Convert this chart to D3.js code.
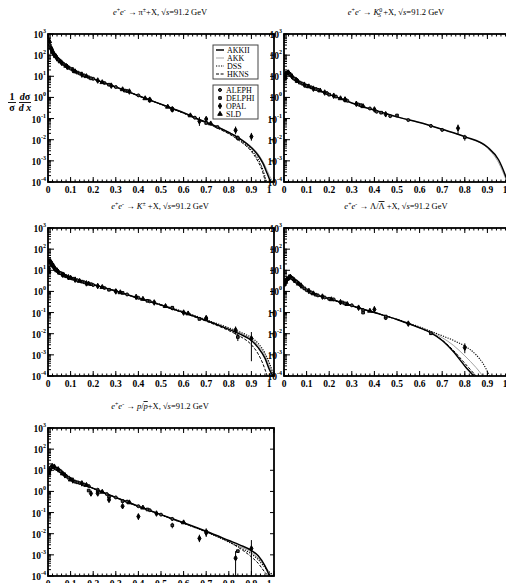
<!DOCTYPE html>
<html>
<head>
<meta charset="utf-8">
<script src="https://cdnjs.cloudflare.com/ajax/libs/d3/7.8.5/d3.min.js"></script>
<style>
  html, body { margin: 0; padding: 0; background: #fff; }
  svg { display: block; font-family: 'Liberation Serif', 'DejaVu Serif', serif; }
</style>
</head>
<body>
<div id="chart"></div>
<script>
'use strict';

// ---- axis ticks ----
const xMajorTicks = [0, 0.1, 0.2, 0.3, 0.4, 0.5, 0.6, 0.7, 0.8, 0.9, 1];
const xTickLabels = ['0', '0.1', '0.2', '0.3', '0.4', '0.5', '0.6', '0.7', '0.8', '0.9', '1'];
const yDecades = [-4, -3, -2, -1, 0, 1, 2, 3];

const models = ['AKKII', 'AKK', 'DSS', 'HKNS'];
const experiments = ['ALEPH', 'DELPHI', 'OPAL', 'SLD'];

// ---- titles: [text, kind] ----
const titlePion = [['e', 'i'], ['+', 'sup'], ['e', 'i'], ['-', 'sup'], [' \u2192 \u03c0', ''], ['\u00b1', 'sup'], ['+X, \u221a', ''], ['s', 'i'], ['=91.2 GeV', '']];
const titleK0S = [['e', 'i'], ['+', 'sup'], ['e', 'i'], ['-', 'sup'], [' \u2192 ', ''], ['K', 'i'], ['0', 'sup'], ['S', 'subback'], [' +X, \u221a', ''], ['s', 'i'], ['=91.2 GeV', '']];
const titleKaon = [['e', 'i'], ['+', 'sup'], ['e', 'i'], ['-', 'sup'], [' \u2192 ', ''], ['K', 'i'], ['\u00b1', 'sup'], [' +X, \u221a', ''], ['s', 'i'], ['=91.2 GeV', '']];
const titleLambda = [['e', 'i'], ['+', 'sup'], ['e', 'i'], ['-', 'sup'], [' \u2192 \u039b/', ''], ['\u039b', 'over'], [' +X, \u221a', ''], ['s', 'i'], ['=91.2 GeV', '']];
const titleProton = [['e', 'i'], ['+', 'sup'], ['e', 'i'], ['-', 'sup'], [' \u2192 ', ''], ['p', 'i'], ['/', ''], ['p', 'iover'], ['+X, \u221a', ''], ['s', 'i'], ['=91.2 GeV', '']];

// ---- theory curves [x, 1/sigma dsigma/dx] ----
const pionAKKII = [[0.003, 650], [0.006, 400], [0.01, 270], [0.02, 150], [0.03, 100], [0.05, 55], [0.07, 36], [0.1, 23], [0.13, 15.5], [0.17, 10], [0.2, 7.6], [0.25, 4.8], [0.3, 3.1], [0.35, 1.95], [0.4, 1.2], [0.45, 0.75], [0.5, 0.48], [0.55, 0.3], [0.6, 0.19], [0.66, 0.1], [0.7, 0.068], [0.75, 0.04], [0.8, 0.022], [0.85, 0.011], [0.9, 0.0042], [0.93, 0.0018], [0.95, 0.0008], [0.97, 0.00025], [0.985, 0.0001]];
const pionAKK = [[0.003, 640], [0.006, 395], [0.01, 268], [0.02, 150], [0.03, 100], [0.05, 55], [0.07, 36], [0.1, 23], [0.13, 15.5], [0.17, 10], [0.2, 7.6], [0.25, 4.8], [0.3, 3.1], [0.35, 1.95], [0.4, 1.2], [0.45, 0.75], [0.5, 0.48], [0.55, 0.3], [0.6, 0.19], [0.66, 0.1], [0.7, 0.069], [0.75, 0.041], [0.8, 0.023], [0.85, 0.0115], [0.9, 0.0046], [0.93, 0.0021], [0.96, 0.0006], [0.98, 0.0002], [0.995, 0.0001]];
const pionDSS = [[0.003, 660], [0.006, 405], [0.01, 272], [0.02, 150], [0.03, 100], [0.05, 55], [0.07, 36], [0.1, 23], [0.13, 15.5], [0.17, 10], [0.2, 7.6], [0.25, 4.8], [0.3, 3.1], [0.35, 1.95], [0.4, 1.2], [0.45, 0.75], [0.5, 0.47], [0.55, 0.29], [0.6, 0.18], [0.66, 0.095], [0.7, 0.064], [0.75, 0.037], [0.8, 0.02], [0.85, 0.0095], [0.9, 0.0032], [0.93, 0.0012], [0.95, 0.0004], [0.967, 0.0001]];
const pionHKNS = [[0.003, 640], [0.006, 400], [0.01, 268], [0.02, 148], [0.03, 99], [0.05, 55], [0.07, 36], [0.1, 23], [0.13, 15.5], [0.17, 10], [0.2, 7.6], [0.25, 4.8], [0.3, 3.1], [0.35, 1.95], [0.4, 1.2], [0.45, 0.75], [0.5, 0.47], [0.55, 0.29], [0.6, 0.18], [0.66, 0.094], [0.7, 0.062], [0.75, 0.035], [0.8, 0.019], [0.85, 0.0085], [0.9, 0.0028], [0.93, 0.0009], [0.95, 0.0003], [0.962, 0.0001]];

const k0sAKKII = [[0.003, 6], [0.008, 12], [0.015, 15], [0.025, 13], [0.05, 7], [0.09, 3.8], [0.13, 2.6], [0.2, 1.4], [0.3, 0.55], [0.4, 0.25], [0.5, 0.12], [0.6, 0.065], [0.7, 0.031], [0.8, 0.014], [0.9, 0.0045], [0.95, 0.0011], [0.98, 0.0002], [1.0, 0.00005]];
const k0sAKK = [[0.003, 6], [0.008, 12], [0.015, 15], [0.025, 13], [0.05, 7], [0.09, 3.8], [0.13, 2.6], [0.2, 1.4], [0.3, 0.55], [0.4, 0.25], [0.5, 0.12], [0.6, 0.065], [0.7, 0.031], [0.8, 0.0135], [0.9, 0.004], [0.95, 0.0008], [0.98, 0.00015], [1.0, 0.00004]];

const kaonAKKII = [[0.003, 12], [0.01, 17], [0.02, 14], [0.05, 7.5], [0.1, 4.3], [0.15, 3], [0.2, 2.1], [0.3, 1.05], [0.4, 0.48], [0.5, 0.23], [0.6, 0.1], [0.7, 0.042], [0.8, 0.016], [0.85, 0.0095], [0.9, 0.0048], [0.93, 0.0022], [0.96, 0.0007], [0.98, 0.0002], [0.995, 0.0001]];
const kaonAKK = [[0.003, 12], [0.01, 17], [0.02, 14], [0.05, 7.5], [0.1, 4.3], [0.15, 3], [0.2, 2.1], [0.3, 1.05], [0.4, 0.48], [0.5, 0.23], [0.6, 0.1], [0.7, 0.043], [0.8, 0.017], [0.85, 0.011], [0.9, 0.0055], [0.93, 0.0028], [0.96, 0.001], [0.98, 0.0003], [1.0, 0.0001]];
const kaonDSS = [[0.003, 13], [0.01, 18], [0.02, 14], [0.05, 7.5], [0.1, 4.3], [0.15, 3], [0.2, 2.1], [0.3, 1.05], [0.4, 0.49], [0.5, 0.24], [0.6, 0.11], [0.7, 0.046], [0.8, 0.019], [0.85, 0.012], [0.9, 0.0065], [0.93, 0.0035], [0.96, 0.0012], [0.98, 0.0004], [1.0, 0.0001]];
const kaonHKNS = [[0.003, 12], [0.01, 16], [0.02, 13.5], [0.05, 7.4], [0.1, 4.3], [0.15, 3], [0.2, 2.1], [0.3, 1.04], [0.4, 0.47], [0.5, 0.22], [0.6, 0.095], [0.7, 0.039], [0.8, 0.014], [0.85, 0.0075], [0.9, 0.003], [0.93, 0.0011], [0.95, 0.0004], [0.97, 0.0001]];

const lambdaAKKII = [[0.003, 2.6], [0.01, 3.5], [0.02, 4.3], [0.03, 4.5], [0.05, 3.1], [0.1, 1.1], [0.15, 0.65], [0.2, 0.45], [0.3, 0.21], [0.4, 0.1], [0.5, 0.047], [0.55, 0.03], [0.6, 0.019], [0.65, 0.011], [0.7, 0.0048], [0.75, 0.0014], [0.8, 0.0003], [0.84, 0.0001]];
const lambdaAKK = [[0.003, 2.6], [0.01, 3.5], [0.02, 4.3], [0.03, 4.5], [0.05, 3.1], [0.1, 1.1], [0.15, 0.65], [0.2, 0.45], [0.3, 0.21], [0.4, 0.1], [0.5, 0.047], [0.55, 0.031], [0.6, 0.02], [0.65, 0.012], [0.7, 0.0065], [0.75, 0.0028], [0.8, 0.0009], [0.85, 0.00025], [0.88, 0.0001]];
const lambdaDSS = [[0.003, 2.7], [0.01, 3.6], [0.02, 4.3], [0.03, 4.5], [0.05, 3.1], [0.1, 1.1], [0.15, 0.65], [0.2, 0.45], [0.3, 0.21], [0.4, 0.1], [0.5, 0.048], [0.55, 0.032], [0.6, 0.021], [0.65, 0.013], [0.7, 0.008], [0.75, 0.0048], [0.8, 0.0026], [0.85, 0.001], [0.88, 0.0004], [0.91, 0.0001]];
const lambdaHKNS = [[0.003, 2.5], [0.01, 3.4], [0.02, 4.2], [0.03, 4.4], [0.05, 3.1], [0.1, 1.1], [0.15, 0.65], [0.2, 0.45], [0.3, 0.21], [0.4, 0.1], [0.5, 0.047], [0.55, 0.03], [0.6, 0.019], [0.65, 0.011], [0.7, 0.005], [0.75, 0.0016], [0.8, 0.0004], [0.85, 0.0001]];

const protonAKKII = [[0.003, 7], [0.01, 11], [0.02, 14], [0.03, 14], [0.05, 10], [0.1, 3.8], [0.15, 2.3], [0.2, 1.4], [0.3, 0.52], [0.4, 0.2], [0.5, 0.08], [0.6, 0.033], [0.7, 0.013], [0.8, 0.0048], [0.85, 0.0029], [0.9, 0.0016], [0.93, 0.0009], [0.96, 0.0003], [0.98, 0.0001]];
const protonAKK = [[0.003, 7], [0.01, 11], [0.02, 14], [0.03, 14], [0.05, 10], [0.1, 3.8], [0.15, 2.3], [0.2, 1.4], [0.3, 0.52], [0.4, 0.2], [0.5, 0.08], [0.6, 0.032], [0.7, 0.0125], [0.8, 0.0045], [0.85, 0.0025], [0.9, 0.0013], [0.93, 0.0007], [0.96, 0.0003], [0.99, 0.0001]];
const protonDSS = [[0.003, 7.5], [0.01, 11.5], [0.02, 14], [0.03, 14], [0.05, 10], [0.1, 3.8], [0.15, 2.3], [0.2, 1.4], [0.3, 0.51], [0.4, 0.19], [0.5, 0.077], [0.6, 0.031], [0.7, 0.012], [0.8, 0.004], [0.85, 0.0022], [0.9, 0.0011], [0.93, 0.0006], [0.96, 0.00025], [1.0, 0.0001]];
const protonHKNS = [[0.003, 6.5], [0.01, 10.5], [0.02, 13.5], [0.03, 14], [0.05, 10], [0.1, 3.8], [0.15, 2.3], [0.2, 1.4], [0.3, 0.52], [0.4, 0.2], [0.5, 0.079], [0.6, 0.032], [0.7, 0.0125], [0.8, 0.0042], [0.85, 0.002], [0.9, 0.0008], [0.93, 0.0004], [0.96, 0.00015], [0.975, 0.0001]];

// ---- measurements [x, value, (low, high)] ----
const pionALEPH = [[0.008, 300], [0.012, 220], [0.016, 180], [0.02, 150], [0.025, 120], [0.03, 100], [0.035, 85], [0.04, 72], [0.05, 56], [0.06, 45], [0.07, 37], [0.08, 31], [0.09, 26], [0.1, 23], [0.12, 17], [0.14, 13.5], [0.16, 11], [0.18, 9], [0.2, 7.6], [0.25, 4.8], [0.3, 3.1], [0.35, 2.0], [0.4, 1.25], [0.45, 0.8], [0.55, 0.3, 0.24, 0.36], [0.65, 0.11], [0.75, 0.04]];
const pionDELPHI = [[0.011, 230], [0.018, 160], [0.03, 95], [0.045, 62], [0.065, 40], [0.09, 26], [0.13, 15], [0.19, 8], [0.27, 4], [0.34, 2.1], [0.45, 0.72], [0.55, 0.26, 0.21, 0.32], [0.7, 0.062], [0.84, 0.012, 0.009, 0.016]];
const pionOPAL = [[0.015, 200], [0.025, 115], [0.04, 70], [0.06, 44], [0.085, 28], [0.11, 20], [0.15, 12], [0.22, 6.3], [0.28, 3.6], [0.36, 1.9], [0.45, 0.78], [0.55, 0.27], [0.67, 0.075, 0.045, 0.12], [0.7, 0.095], [0.83, 0.028, 0.018, 0.042], [0.9, 0.014, 0.009, 0.021]];
const pionSLD = [[0.006, 450], [0.02, 140], [0.035, 88], [0.055, 50], [0.08, 31], [0.12, 17], [0.17, 10], [0.24, 5.2], [0.33, 2.4], [0.43, 0.9], [0.53, 0.36], [0.63, 0.14], [0.72, 0.058]];

const k0sALEPH = [[0.01, 14], [0.015, 15], [0.02, 14.5], [0.03, 11], [0.04, 8.5], [0.05, 7], [0.06, 6], [0.08, 4.5], [0.1, 3.6], [0.12, 3], [0.15, 2.3], [0.19, 1.6], [0.23, 1.1], [0.28, 0.7], [0.33, 0.46], [0.38, 0.3], [0.41, 0.21], [0.47, 0.13], [0.55, 0.085], [0.65, 0.045], [0.7, 0.029]];
const k0sDELPHI = [[0.012, 15], [0.025, 13], [0.045, 7.8], [0.07, 5], [0.1, 3.5], [0.14, 2.5], [0.2, 1.35], [0.27, 0.75], [0.34, 0.43], [0.43, 0.19], [0.5, 0.14], [0.8, 0.013, 0.009, 0.017]];
const k0sOPAL = [[0.008, 12], [0.018, 15], [0.035, 10], [0.055, 6.5], [0.09, 4], [0.13, 2.6], [0.18, 1.7], [0.22, 1.2], [0.27, 0.8], [0.32, 0.5], [0.4, 0.27], [0.45, 0.16], [0.77, 0.035, 0.018, 0.052]];
const k0sSLD = [[0.005, 9], [0.02, 15], [0.06, 6], [0.11, 3.3], [0.16, 2.1], [0.25, 0.9], [0.35, 0.38]];

const kaonALEPH = [[0.005, 28], [0.01, 25], [0.014, 22], [0.018, 19], [0.025, 15], [0.03, 12], [0.04, 9.5], [0.05, 7.8], [0.06, 6.8], [0.08, 5.2], [0.1, 4.3], [0.13, 3.4], [0.16, 2.7], [0.2, 2], [0.25, 1.45], [0.3, 1.05], [0.35, 0.72], [0.4, 0.5], [0.45, 0.34], [0.55, 0.16, 0.13, 0.19], [0.7, 0.05]];
const kaonDELPHI = [[0.007, 30], [0.012, 24], [0.02, 18], [0.035, 11], [0.055, 7.3], [0.075, 5.5], [0.11, 4], [0.15, 2.9], [0.19, 2.2], [0.27, 1.2], [0.33, 0.85], [0.44, 0.36], [0.55, 0.17], [0.67, 0.05], [0.84, 0.007, 0.0045, 0.01]];
const kaonOPAL = [[0.004, 12], [0.009, 26], [0.016, 20], [0.028, 13], [0.045, 8.5], [0.065, 6.2], [0.09, 4.7], [0.12, 3.6], [0.17, 2.4], [0.22, 1.8], [0.3, 1.0], [0.39, 0.55], [0.47, 0.3], [0.6, 0.1], [0.7, 0.055, 0.045, 0.068], [0.83, 0.015, 0.009, 0.022], [0.9, 0.006, 0.0005, 0.012]];
const kaonSLD = [[0.003, 9], [0.013, 23], [0.022, 17], [0.04, 9.8], [0.07, 6], [0.1, 4.4], [0.14, 3.1], [0.18, 2.3], [0.24, 1.6], [0.32, 0.9], [0.42, 0.44], [0.52, 0.2], [0.62, 0.09]];

const lambdaALEPH = [[0.005, 3], [0.01, 3.3], [0.015, 3.8], [0.02, 4.2], [0.025, 4.5], [0.03, 4.8], [0.04, 3.8], [0.05, 3.2], [0.06, 2.6], [0.07, 2.1], [0.08, 1.7], [0.1, 1.15], [0.12, 0.9], [0.15, 0.65], [0.18, 0.52], [0.22, 0.42], [0.26, 0.3], [0.3, 0.22], [0.35, 0.13, 0.11, 0.15], [0.45, 0.055, 0.045, 0.068]];
const lambdaDELPHI = [[0.008, 3.1], [0.018, 4], [0.035, 4.3], [0.055, 2.9], [0.09, 1.4], [0.14, 0.7], [0.2, 0.45], [0.27, 0.27], [0.35, 0.1], [0.45, 0.065], [0.65, 0.0105, 0.0088, 0.0125]];
const lambdaOPAL = [[0.004, 2.3], [0.012, 3.6], [0.022, 4.6], [0.045, 3.4], [0.075, 1.9], [0.11, 1.05], [0.17, 0.57], [0.25, 0.31], [0.33, 0.17], [0.4, 0.14, 0.1, 0.2], [0.55, 0.03], [0.8, 0.0022, 0.0012, 0.0035]];
const lambdaSLD = [[0.006, 2.8], [0.028, 5], [0.065, 2.3], [0.13, 0.8], [0.21, 0.42], [0.28, 0.25], [0.38, 0.12]];

const protonALEPH = [[0.005, 8], [0.01, 12], [0.015, 14], [0.02, 15], [0.025, 14], [0.03, 13], [0.04, 11.5], [0.05, 10], [0.06, 8], [0.07, 6.5], [0.08, 5.4], [0.1, 3.8], [0.12, 2.9], [0.14, 2.5], [0.16, 2.1], [0.18, 1.8], [0.22, 1.2], [0.26, 0.75], [0.3, 0.52], [0.35, 0.33], [0.4, 0.2], [0.45, 0.13], [0.5, 0.08], [0.55, 0.05, 0.04, 0.06], [0.7, 0.013]];
const protonDELPHI = [[0.012, 13], [0.022, 15], [0.035, 12], [0.055, 9], [0.09, 4.5], [0.13, 2.7], [0.18, 1.1], [0.22, 1.0], [0.27, 0.55], [0.33, 0.35], [0.44, 0.14], [0.55, 0.025, 0.018, 0.033], [0.84, 0.0015]];
const protonOPAL = [[0.008, 10], [0.018, 16], [0.045, 11], [0.075, 5.8], [0.11, 3.3], [0.15, 2.4], [0.19, 0.8], [0.22, 0.8], [0.27, 0.4], [0.33, 0.2], [0.4, 0.065, 0.045, 0.09], [0.48, 0.09], [0.67, 0.006, 0.004, 0.009], [0.7, 0.011, 0.007, 0.018], [0.83, 0.0007, 0.00001, 0.0015], [0.9, 0.002, 0.00001, 0.005]];
const protonSLD = [[0.003, 7], [0.028, 15], [0.065, 7], [0.1, 3.6], [0.17, 2], [0.24, 0.95], [0.36, 0.3], [0.42, 0.17], [0.6, 0.034]];

const panels = [
  { title: titlePion, left: 48, top: 34, curves: [pionAKKII, pionAKK, pionDSS, pionHKNS], points: [pionALEPH, pionDELPHI, pionOPAL, pionSLD], legend: true, ylabel: true },
  { title: titleK0S, left: 284, top: 34, curves: [k0sAKKII, k0sAKK, null, null], points: [k0sALEPH, k0sDELPHI, k0sOPAL, k0sSLD] },
  { title: titleKaon, left: 48, top: 228, curves: [kaonAKKII, kaonAKK, kaonDSS, kaonHKNS], points: [kaonALEPH, kaonDELPHI, kaonOPAL, kaonSLD] },
  { title: titleLambda, left: 284, top: 228, curves: [lambdaAKKII, lambdaAKK, lambdaDSS, lambdaHKNS], points: [lambdaALEPH, lambdaDELPHI, lambdaOPAL, lambdaSLD] },
  { title: titleProton, left: 48, top: 428, curves: [protonAKKII, protonAKK, protonDSS, protonHKNS], points: [protonALEPH, protonDELPHI, protonOPAL, protonSLD] },
];

const modelStyle = {
  AKKII: { stroke: '#000', width: 1.5, dash: null },
  AKK: { stroke: '#999', width: 0.9, dash: null },
  DSS: { stroke: '#000', width: 1.1, dash: '1.2,1.3' },
  HKNS: { stroke: '#000', width: 1.0, dash: '3,1.6' },
};
const markerType = {
  ALEPH: { type: d3.symbolCircle, size: 7, fill: '#444' },
  DELPHI: { type: d3.symbolSquare, size: 7, fill: '#444' },
  OPAL: { type: d3.symbolDiamond, size: 9, fill: '#000' },
  SLD: { type: d3.symbolTriangle, size: 9, fill: '#000' },
};

const addRich = (text, parts, size) => {
  let shift = 0;
  parts.forEach(([txt, kind]) => {
    const target = kind === 'sup' ? -3.5 : kind === 'subback' ? 2 : 0;
    const ts = text.append('tspan').text(txt).attr('dy', target - shift);
    if (kind === 'i' || kind === 'iover' || kind === 'subback') ts.style('font-style', 'italic');
    if (kind === 'over' || kind === 'iover') ts.style('text-decoration', 'overline');
    if (kind === 'sup' || kind === 'subback') ts.style('font-size', (size * 0.7) + 'px');
    if (kind === 'subback') ts.attr('dx', -4);
    shift = target;
  });
};

const render = () => {
  const W = 506;
  const H = 583;
  const pw = 226;
  const ph = 148;

  const svg = d3
    .select('#chart')
    .append('svg')
    .attr('width', W)
    .attr('height', H);

  const x = d3.scaleLinear().domain([0, 1]).range([0, pw]);
  const y = d3.scaleLog().domain([1e-4, 1e3]).range([ph, 0]);

  const line = d3
    .line()
    .x(d => x(d[0]))
    .y(d => y(d[1]))
    .curve(d3.curveMonotoneX);

  const xMinor = d3.range(0, 1.001, 0.02);
  const yMinor = y.ticks(10);

  panels.forEach((p, i) => {
    const g = svg.append('g').attr('transform', `translate(${p.left}, ${p.top})`);

    g.append('clipPath')
      .attr('id', 'clip' + i)
      .append('rect')
      .attr('width', pw)
      .attr('height', ph);

    // title
    const t = g
      .append('text')
      .attr('x', 112)
      .attr('y', -19)
      .attr('text-anchor', 'middle')
      .style('font-size', '8.5px');
    addRich(t, p.title, 8.5);

    // curves: AKK, DSS, HKNS underneath, AKKII on top
    const plot = g.append('g').attr('clip-path', `url(#clip${i})`);
    [1, 2, 3, 0].forEach(k => {
      if (!p.curves[k]) return;
      const st = modelStyle[models[k]];
      plot
        .append('path')
        .datum(p.curves[k])
        .attr('d', line)
        .attr('fill', 'none')
        .attr('stroke', st.stroke)
        .attr('stroke-width', st.width)
        .attr('stroke-dasharray', st.dash);
    });

    // measurements
    p.points.forEach((pts, k) => {
      const mk = markerType[experiments[k]];
      const grp = plot.append('g');
      grp
        .selectAll('line')
        .data(pts.filter(d => d.length > 2))
        .enter()
        .append('line')
        .attr('x1', d => x(d[0]))
        .attr('x2', d => x(d[0]))
        .attr('y1', d => y(d[2]))
        .attr('y2', d => y(d[3]))
        .attr('stroke', '#000')
        .attr('stroke-width', 1);
      grp
        .selectAll('path')
        .data(pts)
        .enter()
        .append('path')
        .attr('transform', d => `translate(${x(d[0])}, ${y(d[1])})`)
        .attr('d', d3.symbol().type(mk.type).size(mk.size))
        .attr('fill', mk.fill)
        .attr('stroke', '#000')
        .attr('stroke-width', 1);
    });

    // ticks (inward)
    const ax = g.append('g').attr('stroke', '#000');
    const tick = (x1, y1, x2, y2, w) =>
      ax.append('line').attr('x1', x1).attr('y1', y1).attr('x2', x2).attr('y2', y2).attr('stroke-width', w);
    xMinor.forEach(v => {
      tick(x(v), ph, x(v), ph - 2.5, 1);
      tick(x(v), 0, x(v), 2.5, 1);
    });
    xMajorTicks.forEach(v => {
      tick(x(v), ph, x(v), ph - 5, 1);
      tick(x(v), 0, x(v), 5, 1);
    });
    yMinor.forEach(v => tick(0, y(v), 3, y(v), 1));
    yDecades.forEach(e => {
      tick(0, y(Math.pow(10, e)), 6, y(Math.pow(10, e)), 1);
      tick(pw, y(Math.pow(10, e)), pw - 4, y(Math.pow(10, e)), 1);
    });

    g.append('rect')
      .attr('width', pw)
      .attr('height', ph)
      .attr('fill', 'none')
      .attr('stroke', '#000')
      .attr('stroke-width', 1.8);

    // tick labels
    g.selectAll('.xl')
      .data(xMajorTicks)
      .enter()
      .append('text')
      .attr('x', d => (d === 1 ? x(d) - 5 : x(d)))
      .attr('y', ph + 11)
      .attr('text-anchor', 'middle')
      .style('font-size', '9.5px')
      .style('font-weight', 'bold')
      .text((d, j) => xTickLabels[j]);

    yDecades.forEach(e => {
      const lt = g
        .append('text')
        .attr('x', -2)
        .attr('y', y(Math.pow(10, e)) + 4)
        .attr('text-anchor', 'end')
        .style('font-size', '9.5px')
        .style('font-weight', 'bold');
      lt.append('tspan').text('10');
      lt.append('tspan').text(e).attr('dy', -5).style('font-size', '6px');
    });

    if (p.legend) {
      const lg = g.append('g').attr('transform', 'translate(165, 11)');
      lg.append('rect').attr('width', 45).attr('height', 34).attr('fill', '#fff').attr('stroke', '#444').attr('stroke-width', 1);
      models.forEach((m, k) => {
        const st = modelStyle[m];
        lg.append('line')
          .attr('x1', 3).attr('x2', 11)
          .attr('y1', 5 + k * 8).attr('y2', 5 + k * 8)
          .attr('stroke', st.stroke)
          .attr('stroke-width', st.width)
          .attr('stroke-dasharray', st.dash);
        lg.append('text').attr('x', 14).attr('y', 8 + k * 8).style('font-size', '8px').text(m);
      });
      const lg2 = g.append('g').attr('transform', 'translate(165, 51)');
      lg2.append('rect').attr('width', 45).attr('height', 34).attr('fill', '#fff').attr('stroke', '#444').attr('stroke-width', 1);
      experiments.forEach((ex, k) => {
        const mk = markerType[ex];
        lg2.append('path')
          .attr('transform', `translate(7, ${5 + k * 8})`)
          .attr('d', d3.symbol().type(mk.type).size(mk.size))
          .attr('fill', mk.fill)
          .attr('stroke', '#000')
          .attr('stroke-width', 1);
        lg2.append('text').attr('x', 13).attr('y', 8 + k * 8).style('font-size', '8px').text(ex);
      });
    }

    if (p.ylabel) {
      const yl = svg.append('g').style('font-size', '10px').style('font-weight', 'bold');
      yl.append('text').attr('x', 12).attr('y', 100).attr('text-anchor', 'middle').text('1');
      yl.append('text').attr('x', 12).attr('y', 111).attr('text-anchor', 'middle').text('\u03c3');
      yl.append('line').attr('x1', 8).attr('x2', 16).attr('y1', 102.5).attr('y2', 102.5).attr('stroke', '#000').attr('stroke-width', 0.9);
      const dn = yl.append('text').attr('x', 25).attr('y', 100).attr('text-anchor', 'middle');
      dn.append('tspan').text('d').style('font-style', 'italic');
      dn.append('tspan').text('\u03c3');
      const dd = yl.append('text').attr('x', 25).attr('y', 111).attr('text-anchor', 'middle').style('font-style', 'italic');
      dd.text('d x');
      yl.append('line').attr('x1', 19).attr('x2', 31).attr('y1', 102.5).attr('y2', 102.5).attr('stroke', '#000').attr('stroke-width', 0.9);
    }
  });
};

render();
</script>
</body>
</html>
